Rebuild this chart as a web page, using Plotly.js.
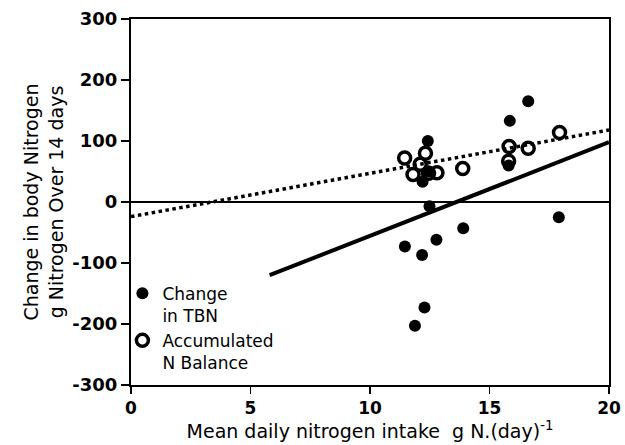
<!DOCTYPE html>
<html>
<head>
<meta charset="utf-8">
<script src="https://cdn.plot.ly/plotly-3.0.1.min.js"></script>
<style>html,body{margin:0;padding:0;background:#fff;}#chart{width:625px;height:445px;}</style>
</head>
<body>
<div id="chart"></div>
<script>
// Change in TBN (filled circles)
const tbnX = [12.42, 15.85, 16.62, 15.8, 12.2, 12.45, 12.49, 17.9, 11.46, 12.18, 12.78, 13.9, 12.28, 11.88];
const tbnY = [100, 133, 165, 60, 33, 50, -7, -25, -73, -87, -62, -43, -173, -203];
// Accumulated N balance (open circles)
const balX = [11.45, 12.32, 11.8, 12.1, 12.8, 12.45, 13.88, 15.82, 15.8, 16.62, 17.93];
const balY = [72, 80, 45, 62, 48, 47, 55, 91, 67, 88, 114];
// Regression lines (endpoints)
const tbnLineX = [5.8, 20];
const tbnLineY = [-120, 98];
const balLineX = [0, 20];
const balLineY = [-24, 118];

const xTicks = [0, 5, 10, 15, 20];
const yTicks = [-300, -200, -100, 0, 100, 200, 300];

const font = "DejaVu Sans, Liberation Sans, sans-serif";

const traces = [
  {x: balLineX, y: balLineY, mode: 'lines', line: {color: 'black', width: 3.5, dash: 'dot'}, showlegend: false, hoverinfo: 'skip'},
  {x: tbnLineX, y: tbnLineY, mode: 'lines', line: {color: 'black', width: 4}, showlegend: false, hoverinfo: 'skip'},
  {x: balX, y: balY, mode: 'markers', name: 'Accumulated<br>N Balance',
   marker: {symbol: 'circle-open', size: 12, color: 'black', line: {width: 3.5, color: 'black'}}},
  {x: tbnX, y: tbnY, mode: 'markers', name: 'Change<br>in TBN',
   marker: {symbol: 'circle', size: 12, color: 'black'}}
];

const layout = {
  width: 625, height: 445,
  margin: {l: 131, r: 16, t: 19, b: 60},
  paper_bgcolor: 'white', plot_bgcolor: 'white',
  font: {family: font, color: 'black', size: 17},
  showlegend: true,
  legend: {
    x: -0.018, y: 0.012, xanchor: 'left', yanchor: 'bottom',
    traceorder: 'reversed', valign: 'top',
    bgcolor: 'rgba(0,0,0,0)',
    font: {family: font, size: 17, color: 'black'},
    itemwidth: 30, tracegroupgap: 0
  },
  xaxis: {
    range: [0, 20], tickvals: xTicks, ticktext: xTicks.map(String),
    showgrid: false, zeroline: false,
    showline: true, linecolor: 'black', linewidth: 2, mirror: true,
    ticks: 'outside', ticklen: 7, tickwidth: 1.5, tickcolor: 'black',
    tickfont: {family: font, size: 17, weight: 'bold', color: 'black'},
    title: {text: 'Mean daily nitrogen intake  g N.(day)<sup>-1</sup>', font: {family: font, size: 19, color: 'black'}, standoff: 2}
  },
  yaxis: {
    range: [-300, 300], tickvals: yTicks, ticktext: yTicks.map(v => v < 0 ? '-' + Math.abs(v) : String(v)),
    showgrid: false,
    zeroline: true, zerolinecolor: 'black', zerolinewidth: 1.5,
    showline: true, linecolor: 'black', linewidth: 2, mirror: true,
    ticks: 'outside', ticklen: 8, tickwidth: 1.5, tickcolor: 'black',
    tickfont: {family: font, size: 18, weight: 'bold', color: 'black'},
    title: {text: 'Change in body Nitrogen<br>g Nitrogen Over 14 days', font: {family: font, size: 19, color: 'black'}, standoff: 4}
  }
};

Plotly.newPlot('chart', traces, layout, {displayModeBar: false, staticPlot: true});
</script>
</body>
</html>
